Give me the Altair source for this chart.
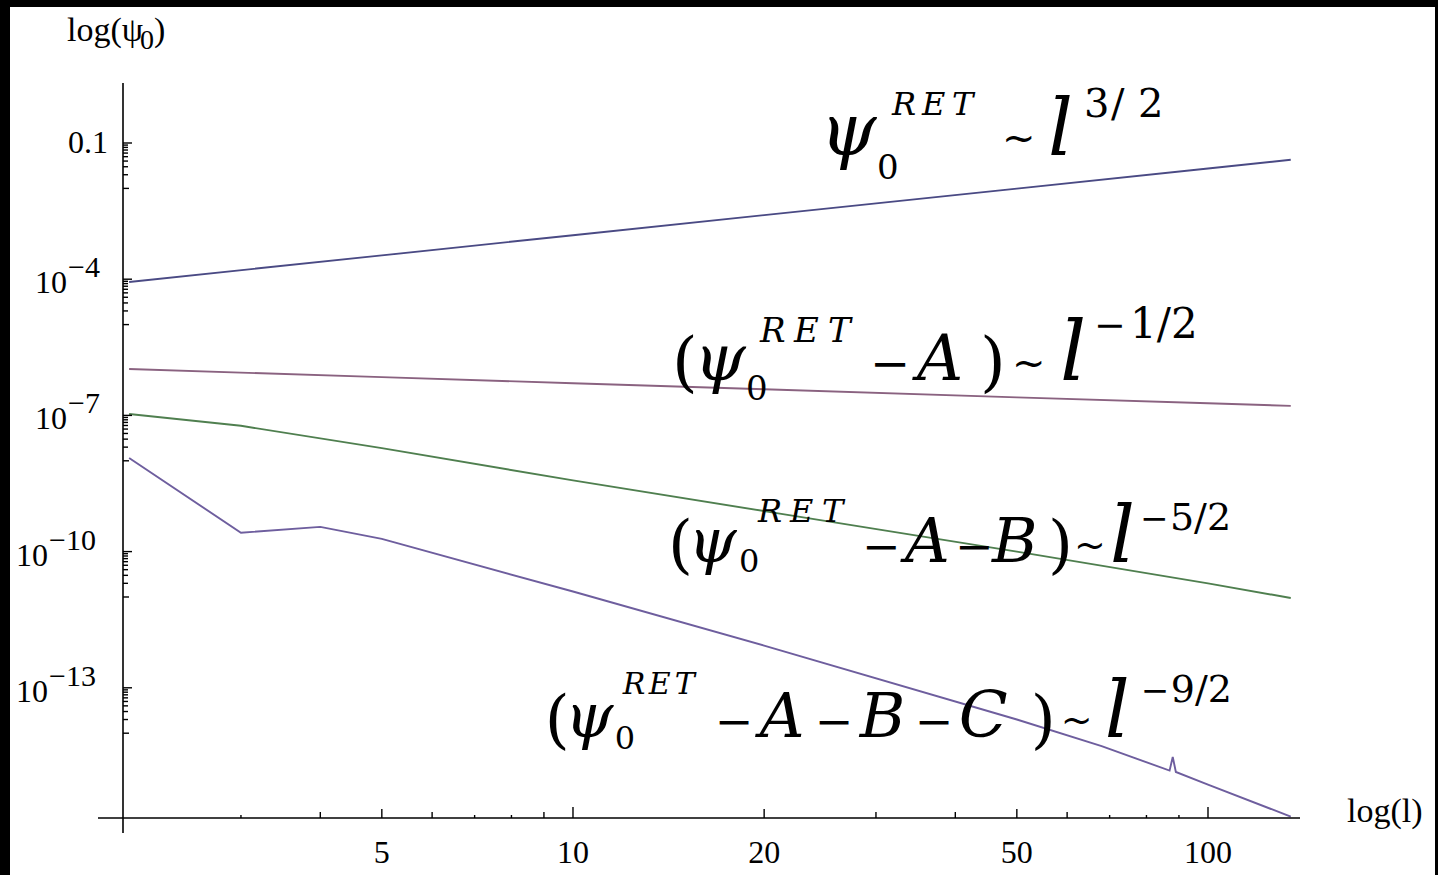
import altair as alt
import pandas as pd

SERIF = "Liberation Serif"
MATH = "DejaVu Serif"

# ---- series: psi_0 against multipole number l (log-log) ----
l_ret = [2, 5, 10, 20, 50, 100, 135]
psi_ret = [8.7e-5, 3.35e-4, 9.3e-4, 2.58e-3, 9.9e-3, 2.75e-2, 4.27e-2]

l_a = [2, 5, 10, 20, 50, 100, 135]
psi_a = [1.05e-6, 6.98e-7, 5.1e-7, 3.77e-7, 2.5e-7, 1.85e-7, 1.62e-7]

l_ab = [2, 3, 5, 10, 20, 50, 100, 135]
psi_ab = [1.07e-7, 5.9e-8, 1.9e-8, 3.7e-9, 7.8e-10, 1.0e-10, 2.0e-11, 9.5e-12]

l_abc = [2, 3, 4, 5, 10, 20, 50, 68, 87, 88, 89, 100, 135]
psi_abc = [1.15e-8, 2.6e-10, 3.5e-10, 1.9e-10, 1.32e-11, 8.5e-13, 2.0e-14,
           5.2e-15, 1.5e-15, 3.0e-15, 1.4e-15, 7.4e-16, 1.45e-16]

series_names = ["RET", "RET-A", "RET-A-B", "RET-A-B-C"]
series_colors = ["#4a4a84", "#8a6280", "#4f7f4f", "#6e5e9e"]

# ---- axis ticks ----
x_major = [5, 10, 20, 50, 100]
x_long = [10, 100]
x_mid = [5, 20, 50]
x_medium = [4, 6, 9, 30, 40, 60]
x_small = [3, 7, 8, 70, 80, 90]

y_major = [1e-1, 1e-4, 1e-7, 1e-10, 1e-13]
y_minor_factors = [0.9, 0.8, 0.7, 0.6, 0.5, 0.4, 0.3, 0.2]
y_decade_factor = 0.1

# y tick labels: value, mantissa text, exponent text
ylab_value = [1e-1, 1e-4, 1e-7, 1e-10, 1e-13]
ylab_base = ["0.1", "10", "10", "10", "10"]
ylab_expo = ["", "\u22124", "\u22127", "\u221210", "\u221213"]

# annotation anchors (data coordinates) for the four formulas
ann_l = [24.5, 14.32, 14.11, 9.03]
ann_psi = [0.0545, 6.03e-7, 5.9e-11, 8.24e-15]

W, H = 1177, 735
x_scale = alt.Scale(type="log", domain=[1.956, 139.6], nice=False)
y_scale = alt.Scale(type="log", domain=[1.355e-16, 2.097], nice=False)

frames = []
for name, ls, ps in zip(series_names, [l_ret, l_a, l_ab, l_abc],
                        [psi_ret, psi_a, psi_ab, psi_abc]):
    frames.append(pd.DataFrame({"l": ls, "psi": ps, "series": name}))
df = pd.concat(frames, ignore_index=True)

dummy = pd.DataFrame({"z": [0]})

# white page inside the dark frame
page = alt.Chart(dummy).mark_rect(color="white").encode(
    x=alt.value(-113), x2=alt.value(W + 135), y=alt.value(-76), y2=alt.value(H + 60)
)

lines = alt.Chart(df).mark_line(strokeWidth=1.9).encode(
    x=alt.X("l:Q", scale=x_scale, axis=None),
    y=alt.Y("psi:Q", scale=y_scale, axis=None),
    color=alt.Color("series:N", scale=alt.Scale(domain=series_names, range=series_colors),
                    legend=None),
)

# axis lines, crossing with a small overshoot
y_axis_line = alt.Chart(dummy).mark_rule(color="black", strokeWidth=1.6).encode(
    x=alt.value(0), y=alt.value(0), y2=alt.value(H + 15))
x_axis_line = alt.Chart(dummy).mark_rule(color="black", strokeWidth=1.6).encode(
    x=alt.value(-25), x2=alt.value(W), y=alt.value(H))


def x_ticks(values, length):
    return alt.Chart(pd.DataFrame({"l": values})).mark_rule(
        color="black", strokeWidth=1.4).encode(
        x=alt.X("l:Q", scale=x_scale, axis=None),
        y=alt.value(H), y2=alt.value(H - length))


def y_ticks(values, length):
    return alt.Chart(pd.DataFrame({"v": values})).mark_rule(
        color="black", strokeWidth=1.4).encode(
        y=alt.Y("v:Q", scale=y_scale, axis=None),
        x=alt.value(0), x2=alt.value(length))


tick_layers = [
    x_ticks(x_long, 11), x_ticks(x_mid, 9), x_ticks(x_medium, 6), x_ticks(x_small, 3),
    y_ticks(y_major, 9),
    y_ticks([m * f for m in y_major for f in y_minor_factors], 5),
    y_ticks([m * y_decade_factor for m in y_major], 6),
]

# x tick labels
xlab_layer = alt.Chart(pd.DataFrame({"l": x_major})).mark_text(
    align="center", baseline="alphabetic", font=SERIF, fontSize=32, color="black").encode(
    x=alt.X("l:Q", scale=x_scale, axis=None),
    y=alt.value(H + 45),
    text=alt.Text("l:Q", format="d"))

# y tick labels (mantissa plus raised exponent)
ylab_layers = []
for v, base, expo in zip(ylab_value, ylab_base, ylab_expo):
    src = pd.DataFrame({"v": [v]})
    if not expo:
        ylab_layers.append(alt.Chart(src).mark_text(
            text=base, align="right", baseline="alphabetic", dy=10,
            font=SERIF, fontSize=32, color="black").encode(
            x=alt.value(-15), y=alt.Y("v:Q", scale=y_scale, axis=None)))
        continue
    base_right = -56 if len(expo) == 2 else -75
    ylab_layers.append(alt.Chart(src).mark_text(
        text=base, align="right", baseline="alphabetic", dy=14,
        font=SERIF, fontSize=32, color="black").encode(
        x=alt.value(base_right), y=alt.Y("v:Q", scale=y_scale, axis=None)))
    ylab_layers.append(alt.Chart(src).mark_text(
        text=expo, align="left", baseline="alphabetic", dy=-2,
        font=SERIF, fontSize=30, color="black").encode(
        x=alt.value(base_right + 1), y=alt.Y("v:Q", scale=y_scale, axis=None)))

# axis titles
title_layers = [
    alt.Chart(dummy).mark_text(text="log(\u03c8", align="left", baseline="alphabetic",
                               font=SERIF, fontSize=34, color="black").encode(
        x=alt.value(-56), y=alt.value(-42)),
    alt.Chart(dummy).mark_text(text="0", align="left", baseline="alphabetic",
                               font=SERIF, fontSize=28, color="black").encode(
        x=alt.value(17), y=alt.value(-34)),
    alt.Chart(dummy).mark_text(text=")", align="left", baseline="alphabetic",
                               font=SERIF, fontSize=34, color="black").encode(
        x=alt.value(31), y=alt.value(-42)),
    alt.Chart(dummy).mark_text(text="log(l)", align="left", baseline="alphabetic",
                               font=SERIF, fontSize=34, color="black").encode(
        x=alt.value(W + 47), y=alt.value(H + 4)),
]

MINUS = "\u2212"
PSI = "\u03c8"

# formula pieces: (text, dx, dy, size, italic)
formula_1 = [
    (PSI, 0, 0, 72, True), ("0", 57, 24, 34, False),
    ("R", 72, -40, 32, True), ("E", 102, -40, 32, True), ("T", 132, -40, 32, True),
    ("~", 182, -4, 40, False), ("l", 228, 0, 78, True),
    ("3", 264, -38, 40, False), ("/", 291, -38, 40, False), ("2", 318, -38, 40, False),
]
formula_2 = [
    ("(", 0, 4, 66, False), (PSI, 22, 0, 66, True), ("0", 74, 20, 34, False),
    ("R", 88, -38, 34, True), ("E", 122, -38, 34, True), ("T", 156, -38, 34, True),
    (MINUS, 198, 0, 48, False), ("A", 245, 0, 64, True), (")", 308, 4, 66, False),
    ("~", 340, -4, 40, False), ("l", 388, 0, 82, True),
    (MINUS, 422, -42, 38, False), ("1/2", 458, -42, 42, False),
]
formula_3 = [
    ("(", 0, 4, 64, False), (PSI, 20, 0, 62, True), ("0", 71, 10, 32, False),
    ("R", 90, -40, 32, True), ("E", 122, -40, 32, True), ("T", 154, -40, 32, True),
    (MINUS, 194, 0, 46, False), ("A", 237, 0, 62, True), (MINUS, 287, 0, 46, False),
    ("B", 324, 0, 62, True), (")", 380, 4, 64, False),
    ("~", 406, -4, 38, False), ("l", 442, 0, 78, True),
    (MINUS, 472, -32, 34, False), ("5/2", 502, -32, 38, False),
]
formula_4 = [
    ("(", 0, 4, 64, False), (PSI, 20, 0, 62, True), ("0", 70, 12, 32, False),
    ("R", 78, -43, 30, True), ("E", 104, -43, 30, True), ("T", 130, -43, 30, True),
    (MINUS, 170, 0, 46, False), ("A", 215, 0, 62, True), (MINUS, 270, 0, 46, False),
    ("B", 315, 0, 62, True), (MINUS, 370, 0, 46, False), ("C", 414, 0, 64, True),
    (")", 486, 4, 64, False), ("~", 516, -4, 38, False), ("l", 560, 0, 78, True),
    (MINUS, 596, -35, 34, False), ("9/2", 626, -35, 38, False),
]

formula_layers = []
for i, pieces in enumerate([formula_1, formula_2, formula_3, formula_4]):
    src = pd.DataFrame({"l": [ann_l[i]], "psi": [ann_psi[i]]})
    for txt, dx, dy, size, italic in pieces:
        formula_layers.append(alt.Chart(src).mark_text(
            text=txt, align="left", baseline="alphabetic", dx=dx, dy=dy,
            font=MATH, fontSize=size, fontStyle="italic" if italic else "normal",
            color="black").encode(
            x=alt.X("l:Q", scale=x_scale, axis=None),
            y=alt.Y("psi:Q", scale=y_scale, axis=None)))

chart = alt.layer(
    page, lines, y_axis_line, x_axis_line, *tick_layers, xlab_layer, *ylab_layers,
    *title_layers, *formula_layers
).properties(
    width=W, height=H,
    autosize=alt.AutoSizeParams(type="none"),
    padding={"left": 123, "top": 83, "right": 138, "bottom": 57},
    background="black",
).configure_view(stroke=None)

chart.save("out.html", embed_options={"renderer": "svg", "actions": False})
